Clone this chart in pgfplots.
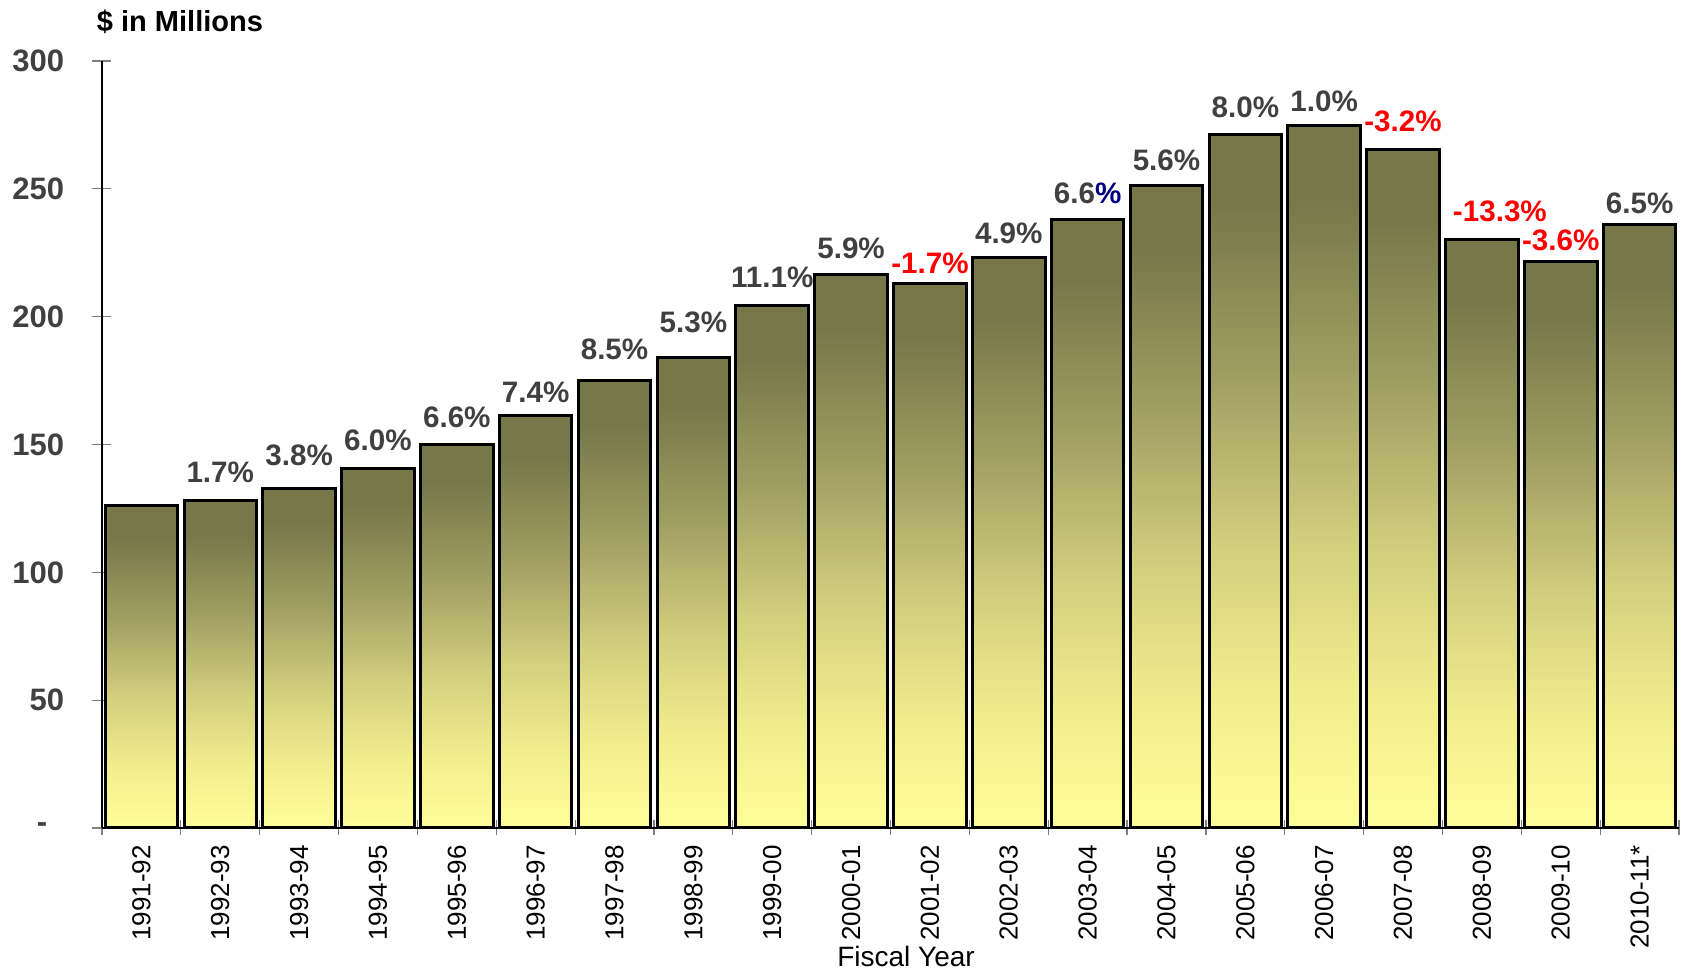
\documentclass[border=0pt]{standalone}
\usepackage{fontspec}
\setmainfont{Liberation Sans}
\usepackage{pgfplots}
\pgfplotsset{compat=1.18}

\definecolor{labgray}{RGB}{64,64,64}
\definecolor{pctblue}{RGB}{0,0,128}
\definecolor{barDark}{RGB}{119,119,74}
\definecolor{barA}{RGB}{160,159,98}
\definecolor{barB}{RGB}{211,208,126}
\definecolor{barC}{RGB}{240,236,141}
\definecolor{barLight}{RGB}{255,255,153}

% per-bar gradient: dark olive at the top fading to pale yellow at the base
\pgfdeclareverticalshading{barshade}{100bp}{%
  color(0bp)=(barLight); color(25bp)=(barLight); color(35bp)=(barC);
  color(45bp)=(barB); color(57.5bp)=(barA); color(70bp)=(barDark);
  color(75bp)=(barDark); color(100bp)=(barDark)}

% value label above a bar, raised by #1 pt
\newcommand\lab[2]{\raisebox{#1pt}{#2}}
\newcommand\dn[1]{\textcolor{red}{#1}}

% each bar is its own plot so that every bar gets its own gradient
\pgfplotsset{
  fybar/.style={
    ybar, bar width=0.92, bar shift=0pt,
    draw=black, line width=1.5pt,
    shading=barshade,
    point meta=explicit symbolic,
    nodes near coords={\pgfplotspointmeta},
    every node near coord/.append style={anchor=base, inner sep=0pt,
      font=\bfseries\fontsize{14.8}{17}\selectfont, text=labgray},
  },
}

\begin{document}
\begin{tikzpicture}
\begin{axis}[
  scale only axis,
  width=788.5pt, height=383.5pt,
  xmin=-0.5, xmax=19.5, ymin=0, ymax=300,
  axis x line=bottom, axis y line=left,
  axis line style={-, black, line width=0.6pt},
  /pgf/number format/assume math mode=true,
  tick align=center,
  ytick={0,50,100,150,200,250,300},
  yticklabels={{-\hspace*{8.5pt}},50,100,150,200,250,300},
  yticklabel style={font=\bfseries\fontsize{15.5}{18}\selectfont, text=labgray, anchor=east, inner sep=0pt, xshift=-14pt},
  major tick length=9.5pt,
  ytick style={draw=gray, line width=0.6pt},
  xtick={0,...,19},
  xticklabels={1991-92,1992-93,1993-94,1994-95,1995-96,1996-97,1997-98,1998-99,1999-00,2000-01,2001-02,2002-03,2003-04,2004-05,2005-06,2006-07,2007-08,2008-09,2009-10,2010-11*},
  xticklabel style={rotate=90, anchor=east, inner sep=0pt, font=\fontsize{13}{15}\selectfont, text=black},
  xticklabel shift=3.6pt,
  major x tick style={draw=none},
  minor xtick={-0.5,0.5,...,19.5},
  minor tick length=7.5pt,
  minor x tick style={draw=gray, line width=0.6pt},
  title={\$ in Millions},
  title style={at={(axis description cs:0,1)}, anchor=base west, inner sep=0pt, xshift=-2.7pt, yshift=8.5pt, font=\bfseries\fontsize{14.5}{17}\selectfont},
  xlabel={Fiscal Year},
  xlabel style={at={(axis description cs:0,0)}, anchor=base, inner sep=0pt, xshift=402pt, yshift=-69.5pt, font=\fontsize{14}{17}\selectfont},
  clip=false,
]
\addplot[fybar] coordinates {(0,126.0) []};
\addplot[fybar] coordinates {(1,128.1) [\lab{9.1}{1.7\%}]};
\addplot[fybar] coordinates {(2,132.7) [\lab{11.5}{3.8\%}]};
\addplot[fybar] coordinates {(3,140.7) [\lab{8.75}{6.0\%}]};
\addplot[fybar] coordinates {(4,150.0) [\lab{8.25}{6.6\%}]};
\addplot[fybar] coordinates {(5,161.4) [\lab{6.25}{7.4\%}]};
\addplot[fybar] coordinates {(6,174.9) [\lab{10.75}{8.5\%}]};
\addplot[fybar] coordinates {(7,184.1) [\lab{12.25}{5.3\%}]};
\addplot[fybar] coordinates {(8,204.4) [\lab{8.75}{11.1\%}]};
\addplot[fybar] coordinates {(9,216.6) [\lab{7.75}{5.9\%}]};
\addplot[fybar] coordinates {(10,213.0) [\lab{4.9}{\dn{-1.7\%}}]};
\addplot[fybar] coordinates {(11,223.3) [\lab{6.75}{4.9\%}]};
\addplot[fybar] coordinates {(12,238.0) [\lab{8.25}{6.6\textcolor{pctblue}{\%}}]};
\addplot[fybar] coordinates {(13,251.3) [\lab{7.75}{5.6\%}]};
\addplot[fybar] coordinates {(14,271.3) [\lab{8.25}{8.0\%}]};
\addplot[fybar] coordinates {(15,274.6) [\lab{7.25}{1.0\%}]};
\addplot[fybar] coordinates {(16,265.2) [\lab{9.25}{\dn{-3.2\%}}]};
\addplot[fybar] coordinates {(17,230.0) [\lab{9.25}{\hspace*{18pt}\dn{-13.3\%}}]};
\addplot[fybar] coordinates {(18,221.7) [\lab{5.25}{\dn{-3.6\%}}]};
\addplot[fybar] coordinates {(19,236.2) [\lab{5.25}{6.5\%}]};
\end{axis}
\pgfresetboundingbox
\path ([xshift=-51pt,yshift=-72pt]current axis.south west) rectangle ([xshift=5.5pt,yshift=30.5pt]current axis.north east);
\end{tikzpicture}
\end{document}
